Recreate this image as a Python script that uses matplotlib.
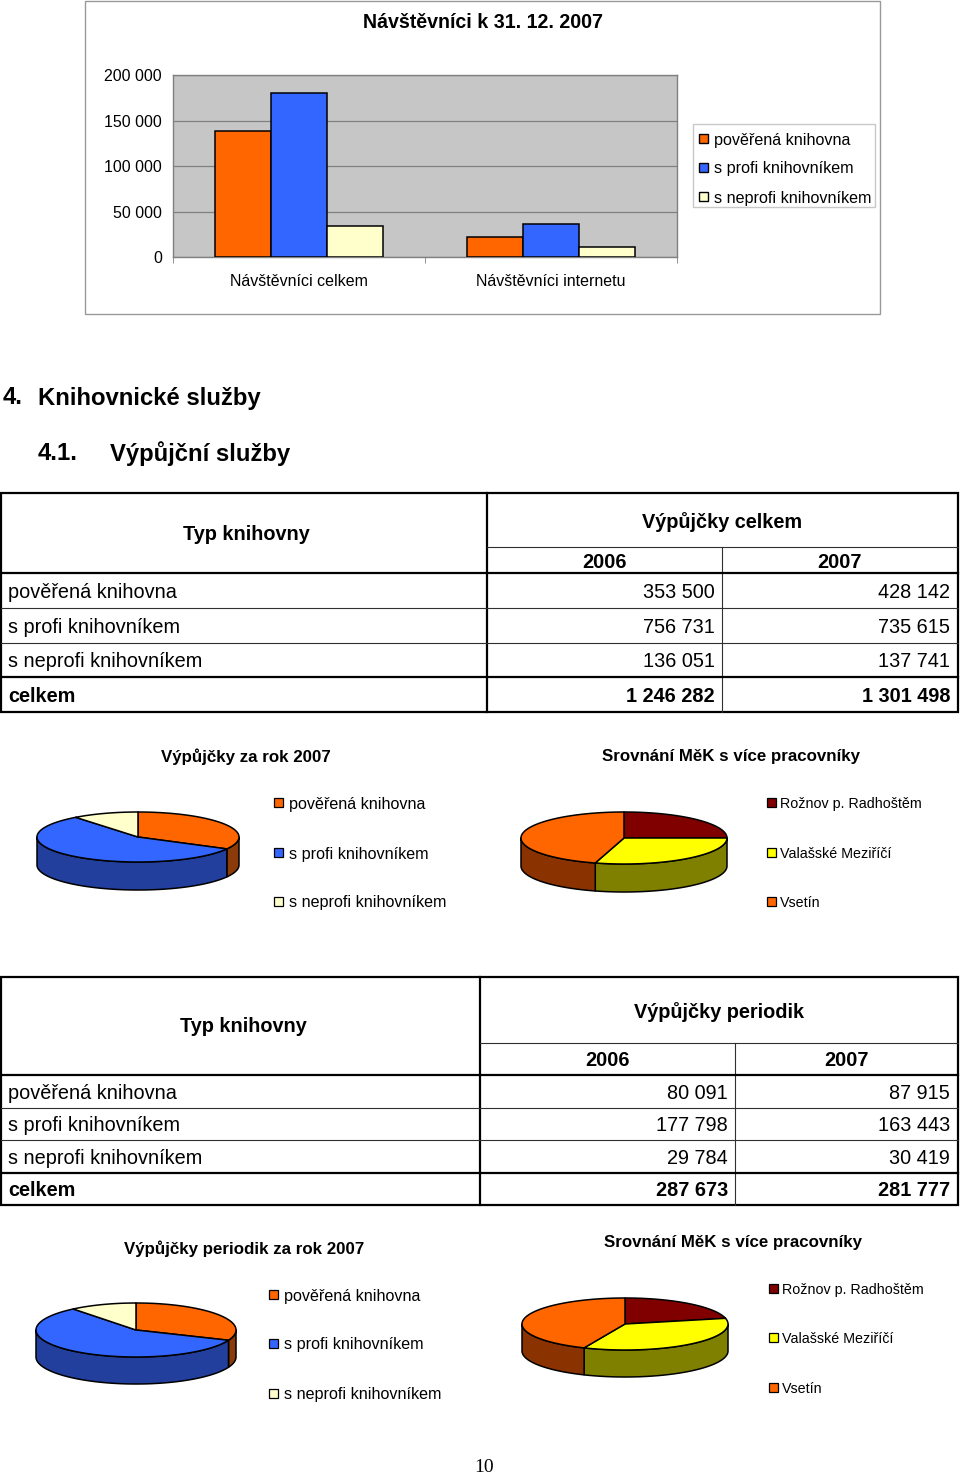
import numpy as np
import matplotlib
matplotlib.use("Agg")
import matplotlib.pyplot as plt
from matplotlib.patches import Rectangle, Polygon

plt.rcParams['font.family'] = ['Liberation Sans', 'DejaVu Sans']

W, H = 960, 1475

# ---------------- data ----------------
series_labels = ['pověřená knihovna', 's profi knihovníkem', 's neprofi knihovníkem']
visit_categories = ['Návštěvníci celkem', 'Návštěvníci internetu']
visit_poverena = [138500, 21500]
visit_profi = [180000, 36000]
visit_neprofi = [34500, 11500]
visit_yticks = [0, 50000, 100000, 150000, 200000]

table_years = ['2006', '2007']
row_labels = series_labels + ['celkem']
loans_2006 = [353500, 756731, 136051, 1246282]
loans_2007 = [428142, 735615, 137741, 1301498]
periodicals_2006 = [80091, 177798, 29784, 287673]
periodicals_2007 = [87915, 163443, 30419, 281777]

towns = ['Rožnov p. Radhoštěm', 'Valašské Meziříčí', 'Vsetín']
towns_loans_share = [25.0, 29.5, 45.5]
towns_periodicals_share = [21.5, 35.0, 43.5]

# ---------------- styles ----------------
series_colors = ['#FF6600', '#3366FF', '#FFFFCC']
series_sides = ['#8B3A0A', '#233F9E', '#B3B38F']
town_colors = ['#800000', '#FFFF00', '#FF6600']
town_sides = ['#4A0000', '#808000', '#8B3300']

DY = 2  # vertical text nudge in px


def fmt(v):
    return f"{v:,}".replace(",", " ")


fig = plt.figure(figsize=(W / 100, H / 100), dpi=100)
fig.patch.set_facecolor('white')


def fax(x0, y0, x1, y1, **kw):
    return fig.add_axes([x0 / W, 1 - y1 / H, (x1 - x0) / W, (y1 - y0) / H], **kw)


ov = fax(0, 0, W, H)
ov.set_xlim(0, W)
ov.set_ylim(H, 0)
ov.axis('off')


def txt(x, y, s, **kw):
    kw.setdefault('va', 'center')
    return ov.text(x, y + DY, s, **kw)


# ---------------- bar chart ----------------
ov.add_patch(Rectangle((85, 0.5), 795, 313.5, fill=False, ec='#9A9A9A', lw=1))
txt(483, 21, 'Návštěvníci k 31. 12. 2007', ha='center', fontsize=14.1, fontweight='bold')

ax = fax(173, 75, 677, 257)
x = np.arange(len(visit_categories))
bw = 56 / 252
for off, vals, col in zip([-bw, 0, bw], [visit_poverena, visit_profi, visit_neprofi], series_colors):
    ax.bar(x + off, vals, bw, color=col, edgecolor='black', lw=1.1, zorder=3)
ax.set_xlim(-0.5, 1.5)
ax.set_ylim(0, 200000)
ax.set_facecolor('#C6C6C6')
ax.set_yticks(visit_yticks)
ax.set_yticklabels([fmt(v) for v in visit_yticks], fontsize=11.5)
ax.yaxis.grid(True, color='#808080', lw=0.9, zorder=0)
ax.tick_params(axis='y', length=0, pad=8)
ax.set_xticks(x)
ax.set_xticklabels(visit_categories, fontsize=11.5)
ax.set_xticks([-0.5, 0.5, 1.5], minor=True)
ax.tick_params(axis='x', which='major', length=0, pad=12)
ax.tick_params(axis='x', which='minor', length=4, color='#808080')
for s in ax.spines.values():
    s.set_color('#808080')
    s.set_linewidth(1)

# legend
ov.add_patch(Rectangle((693, 124), 182, 83, fill=False, ec='#C8C8C8', lw=1))
for i, (lab, col) in enumerate(zip(series_labels, series_colors)):
    yy = 138 + i * 29
    ov.add_patch(Rectangle((699, yy - 4.5), 9, 9, fc=col, ec='black', lw=1))
    txt(714, yy, lab, ha='left', fontsize=11.6)

# ---------------- headings ----------------
txt(3, 396, '4.', ha='left', fontsize=17.2, fontweight='bold')
txt(38, 396, 'Knihovnické služby', ha='left', fontsize=17.2, fontweight='bold')
txt(38, 452, '4.1.', ha='left', fontsize=17.2, fontweight='bold')
txt(110, 452, 'Výpůjční služby', ha='left', fontsize=17.2, fontweight='bold')


# ---------------- tables ----------------
def draw_table(top, bottom, c1, c2, split_y, head_y, title, v06, v07):
    thick = dict(color='black', lw=1.6, solid_capstyle='projecting')
    thin = dict(color='#303030', lw=0.8)
    x0, x1 = 1, 958
    ov.add_patch(Rectangle((x0, top), x1 - x0, bottom - top, fill=False, ec='black', lw=1.6))
    ov.plot([c1, c1], [top, bottom], **thick)
    ov.plot([c2, c2], [split_y, bottom], **thin)
    ov.plot([c1, x1], [split_y, split_y], **thin)
    ov.plot([x0, x1], [head_y, head_y], **thick)
    edges = list(np.linspace(head_y, bottom, len(row_labels) + 1))
    for k, yl in enumerate(edges[1:-1]):
        if k == len(edges) - 3:
            ov.plot([x0, x1], [yl, yl], **thick)
        else:
            ov.plot([x0, x1], [yl, yl], **thin)
    fs = 14.3
    txt(c1 / 2 + 3, (top + head_y) / 2 - 1, 'Typ knihovny', ha='center',
        fontsize=fs, fontweight='bold')
    txt((c1 + x1) / 2, (top + split_y) / 2, title, ha='center',
        fontsize=fs, fontweight='bold')
    txt((c1 + c2) / 2, (split_y + head_y) / 2, table_years[0], ha='center',
        fontsize=fs, fontweight='bold')
    txt((c2 + x1) / 2, (split_y + head_y) / 2, table_years[1], ha='center',
        fontsize=fs, fontweight='bold')
    for i, lab in enumerate(row_labels):
        yy = (edges[i] + edges[i + 1]) / 2
        fw = 'bold' if lab == 'celkem' else 'normal'
        txt(8, yy, lab, ha='left', fontsize=fs, fontweight=fw)
        txt(c2 - 7, yy, fmt(v06[i]), ha='right', fontsize=fs, fontweight=fw)
        txt(x1 - 8, yy, fmt(v07[i]), ha='right', fontsize=fs, fontweight=fw)


draw_table(493, 712, 487, 722, 547, 573, 'Výpůjčky celkem', loans_2006, loans_2007)
draw_table(977, 1205, 480, 735, 1043, 1075, 'Výpůjčky periodik',
           periodicals_2006, periodicals_2007)


# ---------------- 3D pies ----------------
def pie3d(cx, cy, rx, ry, depth, values, colors, sides):
    m = 3
    pax = fax(cx - rx - m, cy - ry - m, cx + rx + m, cy + ry + depth + m)
    pax.set_xlim(-(rx + m) / rx, (rx + m) / rx)
    pax.set_ylim(-(ry + depth + m) / rx, (ry + m) / rx)
    pax.axis('off')
    e = ry / rx
    d = depth / rx
    fr = np.asarray(values, float)
    fr = fr / fr.sum()
    b = 90 - 360 * np.concatenate([[0], np.cumsum(fr)])
    for i in range(len(fr)):
        a0, a1 = b[i], b[i + 1]
        lo, hi = max(a1, -180), min(a0, 0)
        if lo < hi:
            t = np.radians(np.linspace(hi, lo, 120))
            xs, ys = np.cos(t), e * np.sin(t)
            poly = np.column_stack([np.concatenate([xs, xs[::-1]]),
                                    np.concatenate([ys, ys[::-1] - d])])
            pax.add_patch(Polygon(poly, closed=True, fc=sides[i], ec='black', lw=1.1,
                                  joinstyle='round'))
    for i in range(len(fr)):
        t = np.radians(np.linspace(b[i], b[i + 1], 200))
        pts = np.vstack([[0, 0], np.column_stack([np.cos(t), e * np.sin(t)])])
        pax.add_patch(Polygon(pts, closed=True, fc=colors[i], ec='black', lw=1.1,
                              joinstyle='round'))
    return pax


def legend(x_mark, x_text, ys, labels, colors, fs):
    for yy, lab, col in zip(ys, labels, colors):
        ov.add_patch(Rectangle((x_mark - 4.5, yy - 4.5), 9, 9, fc=col, ec='black', lw=0.9))
        txt(x_text, yy, lab, ha='left', fontsize=fs)


# row 1
txt(246, 755, 'Výpůjčky za rok 2007', ha='center', fontsize=12.2, fontweight='bold')
txt(731, 755, 'Srovnání MěK s více pracovníky', ha='center', fontsize=12.2, fontweight='bold')
pie3d(138, 837, 101, 25, 28, loans_2007[:3], series_colors, series_sides)
pie3d(624, 838, 103, 26, 28, towns_loans_share, town_colors, town_sides)
legend(278, 289, [802, 852, 901], series_labels, series_colors, 11.6)
legend(771, 780, [802, 852, 901], towns, town_colors, 10.3)

# row 2
txt(244, 1247, 'Výpůjčky periodik za rok 2007', ha='center', fontsize=12.2, fontweight='bold')
txt(733, 1241, 'Srovnání MěK s více pracovníky', ha='center', fontsize=12.2, fontweight='bold')
pie3d(136, 1330, 100, 27, 27, periodicals_2007[:3], series_colors, series_sides)
pie3d(625, 1324, 103, 26, 27, towns_periodicals_share, town_colors, town_sides)
legend(273, 284, [1294, 1343, 1393], series_labels, series_colors, 11.6)
legend(773, 782, [1288, 1337, 1387], towns, town_colors, 10.3)

# page number
txt(484, 1465, '10', ha='center', fontsize=14, family=['Liberation Serif'])

fig.savefig('out.png', dpi=100, facecolor='white')
